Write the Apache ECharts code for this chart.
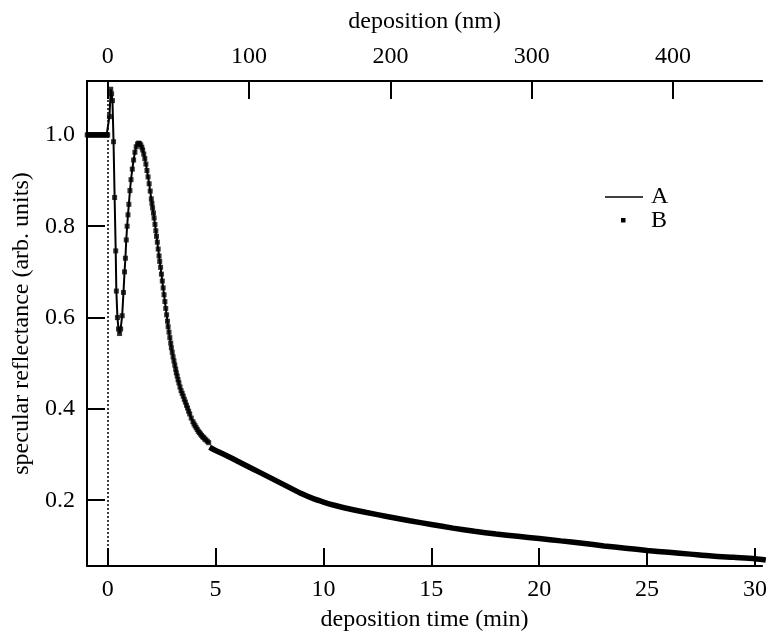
<!DOCTYPE html>
<html>
<head>
<meta charset="utf-8">
<script src="https://cdn.jsdelivr.net/npm/echarts@6/dist/echarts.min.js"></script>
<style>html,body{margin:0;padding:0;background:#fff}#c{width:770px;height:637px}</style>
</head>
<body>
<div id="c"></div>
<script>
// deposition time (min) and specular reflectance, first segment (sampled points, markers visible)
const tSeg1 = [-0.95,-0.9,-0.85,-0.8,-0.75,-0.7,-0.65,-0.6,-0.55,-0.5,-0.45,-0.4,-0.35,-0.3,-0.25,-0.2,-0.15,-0.1,-0.05,0.0,
  0.08,0.14,0.18,0.22,0.27,0.32,0.37,0.40,0.45,0.50,0.55,0.60,0.67,0.73,0.78,0.82,0.86,0.90,0.94,0.98,
  1.03,1.08,1.14,1.20,1.26,1.32,1.38,1.43,1.48,1.53,1.58,1.62,1.67,1.72,1.77,1.82,1.87,1.92,1.97,2.02,
  2.05,2.08,2.12,2.15,2.19,2.23,2.26,2.30,2.34,2.38,2.41,2.45,2.49,2.53,2.57,2.61,2.65,2.69,2.73,2.77,
  2.80,2.84,2.88,2.92,2.95,2.99,3.03,3.07,3.11,3.15,3.18,3.22,3.26,3.30,3.35,3.40,3.45,3.50,3.55,3.60,
  3.65,3.70,3.75,3.80,3.87,3.95,4.00,4.05,4.10,4.15,4.20,4.25,4.30,4.35,4.40,4.45,4.50,4.55,4.62,4.68];
const rSeg1 = [1,1,1,1,1,1,1,1,1,1,1,1,1,1,1,1,1,1,1,1.0,
  1.04,1.10,1.09,1.075,0.985,0.863,0.746,0.658,0.60,0.575,0.565,0.575,0.604,0.655,0.70,0.73,0.77,0.80,0.825,0.848,
  0.878,0.902,0.925,0.945,0.962,0.974,0.980,0.982,0.981,0.978,0.973,0.967,0.958,0.948,0.936,0.922,0.908,0.893,0.877,0.860,
  0.850,0.840,0.829,0.818,0.804,0.790,0.778,0.765,0.750,0.735,0.723,0.710,0.695,0.680,0.665,0.650,0.635,0.620,0.606,0.592,
  0.580,0.568,0.556,0.544,0.534,0.524,0.514,0.505,0.496,0.487,0.479,0.472,0.464,0.457,0.448,0.440,0.434,0.428,0.421,0.415,
  0.408,0.402,0.395,0.389,0.380,0.372,0.367,0.363,0.359,0.355,0.351,0.348,0.345,0.342,0.339,0.337,0.334,0.332,0.329,0.326];
// second segment (dense data, drawn as a continuous thick trace)
const tSeg2 = [4.72,5,5.5,6,6.5,7,7.5,8,8.5,9,9.5,10,10.5,11,12,13,14,15,16,17,18,19,20,21,22,23,24,25,26,27,28,29,30,30.5];
const rSeg2 = [0.316,0.309,0.298,0.286,0.274,0.262,0.250,0.238,0.226,0.214,0.204,0.196,0.189,0.183,0.173,0.164,0.155,0.147,0.139,0.132,0.126,0.121,0.116,0.111,0.106,0.100,0.095,0.090,0.086,0.082,0.078,0.075,0.072,0.069];
const bottomTicks = [0,5,10,15,20,25,30];
const topTicksNm = [0,100,200,300,400];
const legendNames = ['A','B'];

const zip = (a,b) => a.map((x,i) => [x,b[i]]);
const FONT = 'Liberation Serif';
const FS = 24;
const chart = echarts.init(document.getElementById('c'), null, {renderer:'canvas'});
const axisCommon = {
  type:'value',
  axisLine:{show:true,onZero:false,lineStyle:{color:'#000',width:2}},
  axisTick:{show:true,inside:true,length:18,lineStyle:{color:'#000',width:2}},
  splitLine:{show:false},
  axisLabel:{color:'#000',fontFamily:FONT,fontSize:FS,showMinLabel:false,showMaxLabel:false},
  nameTextStyle:{color:'#000',fontFamily:FONT,fontSize:FS},
  nameLocation:'middle'
};
chart.setOption({
  animation:false,
  backgroundColor:'#fff',
  grid:{left:87,right:0,top:81,bottom:69,containLabel:false},
  xAxis:[
    Object.assign({}, axisCommon, {position:'bottom',min:-0.96,max:30.33,name:'deposition time (min)',nameGap:42,
      axisLabel:Object.assign({},axisCommon.axisLabel,{margin:12})}),
    Object.assign({}, axisCommon, {position:'top',min:-14.7,max:463,name:'deposition (nm)',nameGap:47,
      axisLabel:Object.assign({},axisCommon.axisLabel,{margin:12})})
  ],
  yAxis:[
    Object.assign({}, axisCommon, {min:0.056,max:1.118,name:'specular reflectance (arb. units)',nameGap:53,
      axisLabel:Object.assign({},axisCommon.axisLabel,{margin:12,formatter:v=>v.toFixed(1)})})
  ],
  series:[
    {name:'A',type:'line',xAxisIndex:0,data:zip(tSeg1,rSeg1),showSymbol:false,symbol:'none',
      lineStyle:{color:'#000',width:2},
      markLine:{silent:true,symbol:'none',label:{show:false},lineStyle:{color:'#000',width:1.5,type:[2,2]},data:[{xAxis:0}]}},
    {name:'B',type:'scatter',xAxisIndex:0,data:zip(tSeg1,rSeg1),symbol:'rect',symbolSize:5,itemStyle:{color:'#000'}},
    {name:'B2',type:'line',xAxisIndex:0,data:zip(tSeg2,rSeg2),showSymbol:false,symbol:'none',smooth:0.3,
      lineStyle:{color:'#000',width:5.5}},
    {name:'nm',type:'line',xAxisIndex:1,data:[],silent:true}
  ],
  graphic:[
    {type:'line',shape:{x1:605,y1:197,x2:643,y2:197},style:{stroke:'#000',lineWidth:1.5}},
    {type:'text',left:651,top:185,style:{text:legendNames[0],font:FS+'px "Liberation Serif"',fill:'#000'}},
    {type:'rect',shape:{x:621,y:218,width:4.5,height:4.5},style:{fill:'#000'}},
    {type:'text',left:651,top:209,style:{text:legendNames[1],font:FS+'px "Liberation Serif"',fill:'#000'}}
  ]
});
</script>
</body>
</html>
